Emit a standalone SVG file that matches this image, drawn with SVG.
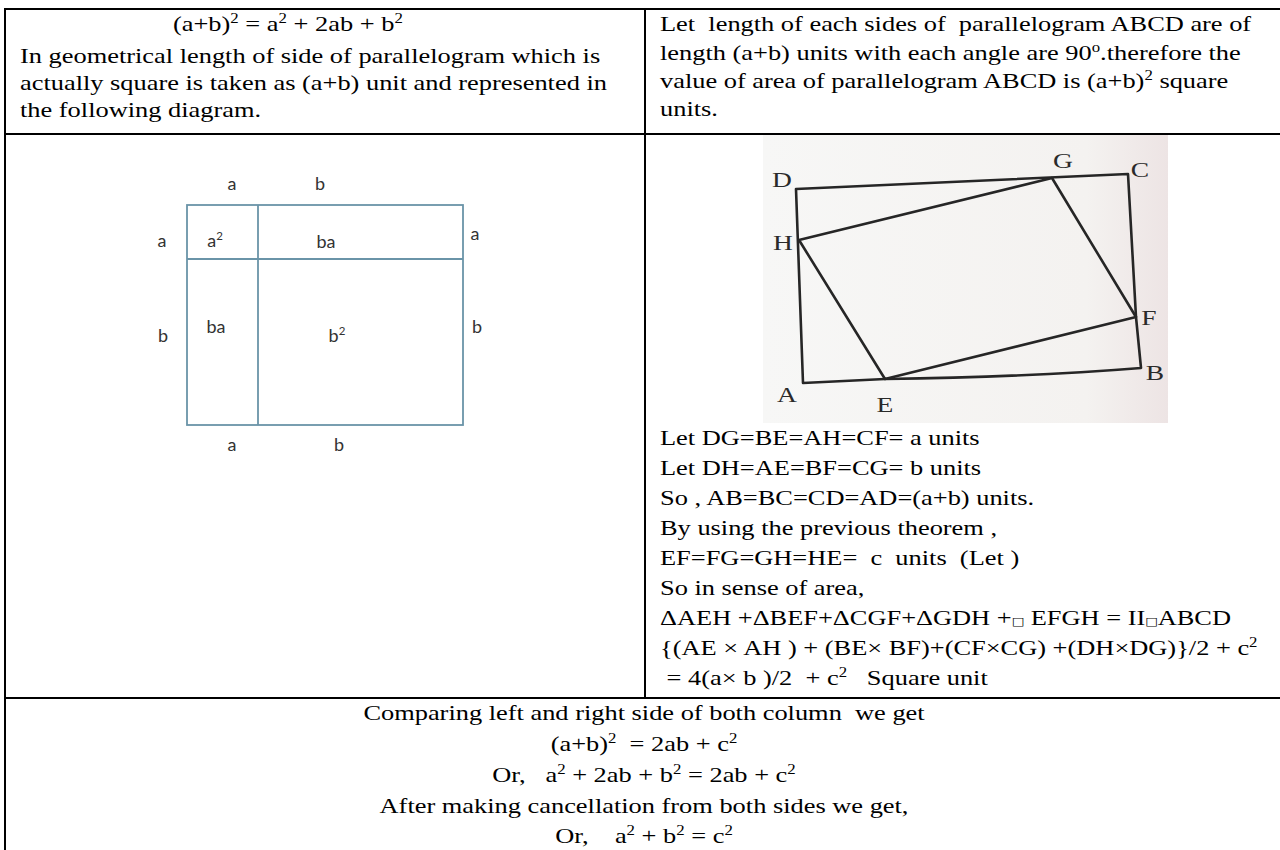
<svg xmlns="http://www.w3.org/2000/svg" width="1280" height="850" viewBox="0 0 1280 850">
<defs>
<style>
.t{font-family:"Liberation Serif","Times New Roman",serif;font-size:22px;fill:#000;white-space:pre}
.c{text-anchor:middle}
.sup{font-size:14px}
.box{font-family:"DejaVu Sans",sans-serif;font-size:11px}
.lbl{font-family:Lato,"Open Sans",sans-serif;font-size:18px;fill:#333;text-anchor:middle}
.lsup{font-size:11.5px}
.fl{font-family:"Liberation Serif","Times New Roman",serif;font-size:22px;fill:#2a2a2a;text-anchor:middle}
.grid line{stroke:#000;stroke-width:2}
.sq{fill:none;stroke:#6a94a8;stroke-width:1.8}
.fig{fill:none;stroke:#262626;stroke-width:2.6;stroke-linejoin:round;stroke-linecap:round}
</style>
<linearGradient id="paper" x1="0" y1="0" x2="1" y2="0">
<stop offset="0" stop-color="#f7f7f6"/>
<stop offset="0.8" stop-color="#f4f2f0"/>
<stop offset="1" stop-color="#ede4e4"/>
</linearGradient>
</defs>
<rect width="1280" height="850" fill="#fff"/>

<g id="table-grid" class="grid">
<line x1="4" y1="9" x2="1280" y2="9"/>
<line x1="5" y1="8" x2="5" y2="850"/>
<line x1="4" y1="134" x2="1280" y2="134"/>
<line x1="4" y1="698" x2="1280" y2="698"/>
<line x1="645" y1="9" x2="645" y2="698"/>
</g>

<g id="row1-left">
<text class="t" xml:space="preserve" transform="matrix(1.2 0 0 1 173 31)">(a+b)<tspan class="sup" dy="-8">2</tspan><tspan dy="8"> = a</tspan><tspan class="sup" dy="-8">2</tspan><tspan dy="8"> + 2ab + b</tspan><tspan class="sup" dy="-8">2</tspan></text>
<text class="t" xml:space="preserve" transform="matrix(1.2 0 0 1 20 63)">In geometrical length of side of parallelogram which is</text>
<text class="t" xml:space="preserve" transform="matrix(1.2 0 0 1 20 90)">actually square is taken as (a+b) unit and represented in</text>
<text class="t" xml:space="preserve" transform="matrix(1.2 0 0 1 20 117)">the following diagram.</text>
</g>

<g id="row1-right">
<text class="t" xml:space="preserve" transform="matrix(1.2 0 0 1 660 31)">Let  length of each sides of  parallelogram ABCD are of</text>
<text class="t" xml:space="preserve" transform="matrix(1.2 0 0 1 660 60)">length (a+b) units with each angle are 90<tspan class="sup" dy="-8">o</tspan><tspan dy="8">.therefore the</tspan></text>
<text class="t" xml:space="preserve" transform="matrix(1.2 0 0 1 660 88)">value of area of parallelogram ABCD is (a+b)<tspan class="sup" dy="-8">2</tspan><tspan dy="8"> square</tspan></text>
<text class="t" xml:space="preserve" transform="matrix(1.2 0 0 1 660 116)">units.</text>
</g>

<g id="square-diagram">
<rect class="sq" x="187" y="205" width="276" height="220"/>
<line class="sq" x1="258" y1="205" x2="258" y2="425"/>
<line class="sq" x1="187" y1="259" x2="463" y2="259"/>
<text class="lbl" x="232" y="190">a</text>
<text class="lbl" x="320" y="190">b</text>
<text class="lbl" x="162" y="247">a</text>
<text class="lbl" x="215" y="247">a<tspan class="lsup" dy="-7">2</tspan></text>
<text class="lbl" x="326" y="248">ba</text>
<text class="lbl" x="475" y="240">a</text>
<text class="lbl" x="163" y="342">b</text>
<text class="lbl" x="216" y="333">ba</text>
<text class="lbl" x="337" y="342">b<tspan class="lsup" dy="-7">2</tspan></text>
<text class="lbl" x="477" y="333">b</text>
<text class="lbl" x="232" y="451">a</text>
<text class="lbl" x="339" y="451">b</text>
</g>

<g id="parallelogram-figure">
<rect x="763" y="135" width="405" height="288" fill="url(#paper)"/>
<path class="fig" d="M796 189 L1128 174 L1136 317 L1141 368 Q1030 377 885 379 L803 383 Z"/>
<path class="fig" d="M799 240 L1052 178 L1136 317 L885 379 Z"/>
<text class="fl" transform="matrix(1.25 0 0 1 782 187)">D</text>
<text class="fl" transform="matrix(1.25 0 0 1 1063 168)">G</text>
<text class="fl" transform="matrix(1.25 0 0 1 1140 177)">C</text>
<text class="fl" transform="matrix(1.25 0 0 1 783 250)">H</text>
<text class="fl" transform="matrix(1.25 0 0 1 1149 325)">F</text>
<text class="fl" transform="matrix(1.25 0 0 1 1155 380)">B</text>
<text class="fl" transform="matrix(1.25 0 0 1 787 402)">A</text>
<text class="fl" transform="matrix(1.25 0 0 1 885 412)">E</text>
</g>

<g id="proof-steps">
<text class="t" xml:space="preserve" transform="matrix(1.2 0 0 1 660 445)">Let DG=BE=AH=CF= a units</text>
<text class="t" xml:space="preserve" transform="matrix(1.2 0 0 1 660 475)">Let DH=AE=BF=CG= b units</text>
<text class="t" xml:space="preserve" transform="matrix(1.2 0 0 1 660 505)">So , AB=BC=CD=AD=(a+b) units.</text>
<text class="t" xml:space="preserve" transform="matrix(1.2 0 0 1 660 535)">By using the previous theorem ,</text>
<text class="t" xml:space="preserve" transform="matrix(1.2 0 0 1 660 565)">EF=FG=GH=HE=  c  units  (Let )</text>
<text class="t" xml:space="preserve" transform="matrix(1.2 0 0 1 660 595)">So in sense of area,</text>
<text class="t" xml:space="preserve" transform="matrix(1.2 0 0 1 660 625)">ΔAEH +ΔBEF+ΔCGF+ΔGDH +<tspan class="box">□</tspan> EFGH = II<tspan class="box">□</tspan>ABCD</text>
<text class="t" xml:space="preserve" transform="matrix(1.2 0 0 1 660 655)">{(AE × AH ) + (BE× BF)+(CF×CG) +(DH×DG)}/2 + c<tspan class="sup" dy="-8">2</tspan></text>
<text class="t" xml:space="preserve" transform="matrix(1.2 0 0 1 660 685)"> = 4(a× b )/2  + c<tspan class="sup" dy="-8">2</tspan><tspan dy="8">   Square unit</tspan></text>
</g>

<g id="conclusion">
<text class="t c" xml:space="preserve" transform="matrix(1.2 0 0 1 644 720)">Comparing left and right side of both column  we get</text>
<text class="t c" xml:space="preserve" transform="matrix(1.2 0 0 1 644 751)">(a+b)<tspan class="sup" dy="-8">2</tspan><tspan dy="8">  = 2ab + c</tspan><tspan class="sup" dy="-8">2</tspan></text>
<text class="t c" xml:space="preserve" transform="matrix(1.2 0 0 1 644 782)">Or,   a<tspan class="sup" dy="-8">2</tspan><tspan dy="8"> + 2ab + b</tspan><tspan class="sup" dy="-8">2</tspan><tspan dy="8"> = 2ab + c</tspan><tspan class="sup" dy="-8">2</tspan></text>
<text class="t c" xml:space="preserve" transform="matrix(1.2 0 0 1 644 813)">After making cancellation from both sides we get,</text>
<text class="t c" xml:space="preserve" transform="matrix(1.2 0 0 1 644 843)">Or,    a<tspan class="sup" dy="-8">2</tspan><tspan dy="8"> + b</tspan><tspan class="sup" dy="-8">2</tspan><tspan dy="8"> = c</tspan><tspan class="sup" dy="-8">2</tspan></text>
</g>
</svg>
